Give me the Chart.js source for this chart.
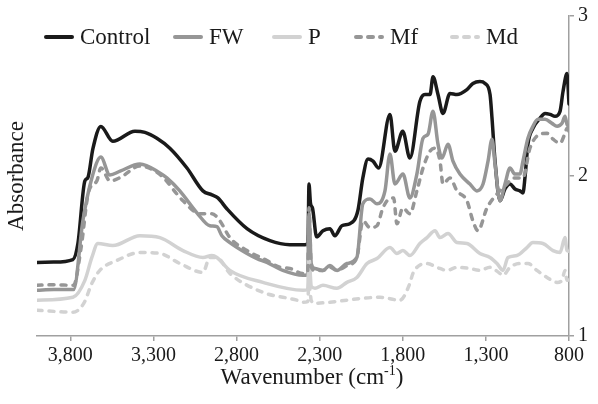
<!DOCTYPE html>
<html><head><meta charset="utf-8">
<script src="https://cdn.jsdelivr.net/npm/chart.js@4/dist/chart.umd.min.js"></script>
<style>html,body{margin:0;padding:0;background:#fff}#wrap{width:598px;height:404px;position:relative}
.fp{font-family:"Liberation Serif";position:absolute;left:-999px;top:0;font-size:20px}</style>
</head><body><div id="wrap"><canvas id="c" width="598" height="404"></canvas></div><span class="fp">Control 3,800</span>
<script>
const seriesNames = ['Control', 'FW', 'P', 'Mf', 'Md'];
const xTickValues = [3800, 3300, 2800, 2300, 1800, 1300, 800];
const yTickValues = [1, 2, 3];
const xTitle = 'Wavenumber (cm';
const xTitleSup = '-1';
const yTitle = 'Absorbance';

const wnControl = [4000,3900,3784,3754,3712,3694,3664,3616,3544,3411,3351,3279,3201,3098,3002,2948,2912,2858,2737,2599,2479,2388,2370,2364,2355,2343,2318,2280,2238,2208,2166,2118,2070,2040,2009,1979,1945,1877,1847,1800,1757,1697,1666,1636,1618,1588,1558,1516,1474,1414,1378,1336,1305,1275,1263,1245,1215,1185,1155,1125,1095,1077,1065,1047,1017,975,944,914,884,854,836,812,800];
const absControl = [1.46,1.462,1.478,1.578,1.97,1.99,2.17,2.31,2.217,2.28,2.273,2.236,2.174,2.05,1.907,1.882,1.863,1.795,1.671,1.596,1.571,1.571,1.58,1.95,1.83,1.80,1.62,1.658,1.671,1.627,1.689,1.702,1.783,1.988,2.106,2.093,2.05,2.385,2.155,2.28,2.112,2.466,2.509,2.509,2.621,2.509,2.391,2.516,2.509,2.54,2.578,2.59,2.578,2.509,2.36,2.093,1.845,1.919,1.95,1.919,1.907,1.894,1.988,2.199,2.298,2.36,2.391,2.385,2.373,2.404,2.528,2.64,2.45];

const wnFW = [4000,3900,3780,3724,3670,3616,3562,3500,3381,3261,3219,3141,3038,2960,2918,2888,2840,2737,2677,2617,2521,2400,2372,2364,2350,2328,2280,2238,2196,2136,2076,2040,1997,1955,1907,1877,1847,1799,1757,1715,1678,1648,1618,1588,1564,1528,1498,1456,1396,1354,1317,1287,1263,1245,1215,1185,1155,1125,1095,1077,1047,1017,987,944,902,872,842,824,812,800];
const absFW = [1.286,1.29,1.29,1.72,1.988,2.118,2.006,2.03,2.075,2.019,1.988,1.907,1.77,1.689,1.683,1.627,1.584,1.516,1.484,1.46,1.41,1.379,1.385,1.764,1.45,1.422,1.41,1.441,1.41,1.453,1.491,1.826,1.857,1.826,1.907,2.137,1.95,2.012,1.863,2.012,2.236,2.261,2.404,2.199,2.112,2.199,2.093,2.012,1.95,1.907,1.95,2.093,2.23,2.075,1.845,1.95,2.05,2.012,2.012,2.093,2.236,2.311,2.354,2.354,2.329,2.311,2.329,2.373,2.323,2.31];

const wnP = [4000,3784,3712,3670,3634,3544,3381,3261,3122,3002,2948,2918,2840,2641,2400,2372,2364,2350,2328,2280,2196,2136,2076,2015,1955,1877,1835,1799,1757,1697,1654,1606,1576,1528,1474,1414,1336,1275,1233,1197,1167,1113,1053,1017,957,896,854,824,812,800];
const absP = [1.224,1.242,1.348,1.491,1.578,1.565,1.627,1.615,1.534,1.491,1.503,1.491,1.41,1.335,1.286,1.29,1.491,1.31,1.298,1.317,1.298,1.335,1.366,1.453,1.484,1.553,1.516,1.534,1.503,1.578,1.615,1.658,1.615,1.64,1.584,1.578,1.516,1.491,1.453,1.41,1.491,1.503,1.553,1.584,1.578,1.534,1.522,1.615,1.534,1.53];

const wnMf = [4000,3900,3780,3735,3690,3640,3616,3560,3500,3381,3261,3122,3020,2948,2900,2840,2737,2617,2539,2479,2400,2372,2364,2350,2328,2280,2238,2196,2136,2076,2040,1997,1955,1919,1870,1855,1835,1799,1757,1715,1678,1636,1606,1576,1558,1516,1474,1414,1378,1348,1293,1233,1173,1137,1077,1035,975,932,896,854,824,812,800];
const absMf = [1.317,1.32,1.317,1.55,1.90,1.969,2.05,1.969,1.99,2.062,2.01,1.845,1.764,1.764,1.72,1.615,1.534,1.472,1.429,1.422,1.391,1.40,1.801,1.43,1.41,1.41,1.43,1.41,1.44,1.49,1.72,1.677,1.689,1.801,1.863,1.863,1.702,1.801,1.764,1.907,2.05,2.155,2.174,2.093,1.95,1.988,1.907,1.845,1.72,1.658,1.801,1.888,1.95,1.988,1.988,2.174,2.261,2.267,2.23,2.205,2.267,2.298,2.28];

const wnMd = [4000,3784,3718,3670,3622,3520,3381,3261,3140,3002,2960,2918,2840,2641,2437,2400,2372,2364,2350,2328,2238,2136,2040,1937,1817,1757,1739,1654,1594,1534,1474,1396,1336,1275,1215,1197,1155,1095,1047,993,932,872,842,824,812,800];
const absMd = [1.161,1.149,1.205,1.329,1.41,1.472,1.522,1.516,1.453,1.398,1.491,1.491,1.391,1.273,1.224,1.211,1.215,1.33,1.22,1.205,1.211,1.224,1.236,1.242,1.224,1.329,1.391,1.453,1.429,1.41,1.429,1.422,1.41,1.429,1.391,1.379,1.429,1.453,1.453,1.41,1.366,1.335,1.348,1.41,1.348,1.35];

const seriesWn = [wnControl, wnFW, wnP, wnMf, wnMd];
const seriesAbs = [absControl, absFW, absP, absMf, absMd];
const seriesColors = ['#1a1a1a', '#969696', '#d2d2d2', '#969696', '#d2d2d2'];
const seriesDash = [[], [], [], [5, 7], [5, 7]];
const legendX = [44, 173, 272, 354, 450];

const FONT = "'Liberation Serif'";

const datasets = seriesNames.map((name, i) => ({
  label: name,
  data: seriesWn[i].map((w, k) => ({ x: w, y: seriesAbs[i][k] })),
  borderColor: seriesColors[i],
  backgroundColor: seriesColors[i],
  borderWidth: 3.5,
  borderDash: seriesDash[i],
  borderCapStyle: 'round',
  borderJoinStyle: 'round',
  pointRadius: 0,
  cubicInterpolationMode: 'monotone',
  fill: false,
  order: seriesNames.length - i
}));

const decor = {
  id: 'decor',
  afterDraw(chart) {
    const ctx = chart.ctx;
    const area = chart.chartArea;
    ctx.save();
    ctx.fillStyle = '#1a1a1a';
    ctx.font = '23px ' + FONT;
    ctx.textAlign = 'center';
    ctx.textBaseline = 'middle';
    ctx.translate(17, (area.top + area.bottom) / 2);
    ctx.rotate(-Math.PI / 2);
    ctx.fillText(yTitle, 0, 0);
    ctx.restore();
    ctx.save();
    ctx.fillStyle = '#1a1a1a';
    ctx.textBaseline = 'alphabetic';
    ctx.textAlign = 'left';
    const mainFont = '23px ' + FONT, supFont = '14px ' + FONT;
    ctx.font = mainFont; const w1 = ctx.measureText(xTitle).width; const w3 = ctx.measureText(')').width;
    ctx.font = supFont; const w2 = ctx.measureText(xTitleSup).width;
    let x = 312 - (w1 + w2 + w3) / 2; const base = 384;
    ctx.font = mainFont; ctx.fillText(xTitle, x, base); x += w1;
    ctx.font = supFont; ctx.fillText(xTitleSup, x, base - 9); x += w2;
    ctx.font = mainFont; ctx.fillText(')', x, base);
    ctx.restore();
    ctx.save();
    chart.data.datasets.forEach((ds, i) => {
      const lx = legendX[i], ly = 37;
      ctx.strokeStyle = ds.borderColor;
      ctx.lineWidth = 4;
      ctx.lineCap = 'round';
      ctx.setLineDash(ds.borderDash || []);
      ctx.beginPath(); ctx.moveTo(lx + 2, ly); ctx.lineTo(lx + 28, ly); ctx.stroke();
      ctx.setLineDash([]);
      ctx.fillStyle = '#1a1a1a';
      ctx.font = '23px ' + FONT;
      ctx.textBaseline = 'middle';
      ctx.textAlign = 'left';
      ctx.fillText(ds.label, lx + 36, ly + 1);
    });
    ctx.restore();
  }
};

function build() {
  new Chart(document.getElementById('c'), {
    type: 'line',
    data: { datasets },
    options: {
      responsive: false,
      animation: false,
      devicePixelRatio: 1,
      layout: { padding: { left: 37, top: 14, right: 0, bottom: 0 } },
      plugins: { legend: { display: false }, tooltip: { enabled: false }, title: { display: false } },
      scales: {
        x: {
          type: 'linear', position: 'bottom', min: 800, max: 4000, reverse: true,
          afterBuildTicks: (s) => { s.ticks = xTickValues.map(v => ({ value: v })); },
          afterFit: (s) => { s.height = 68; },
          ticks: { font: { family: FONT, size: 20 }, color: '#1a1a1a', padding: 3, maxRotation: 0, autoSkip: false,
                   callback: (v) => v.toLocaleString('en-US') },
          grid: { drawOnChartArea: false, drawTicks: true, tickLength: 5, color: '#a0a0a0', lineWidth: 1.5 },
          border: { display: true, color: '#a0a0a0', width: 1.5 }
        },
        y: {
          type: 'linear', position: 'right', min: 1, max: 3,
          afterBuildTicks: (s) => { s.ticks = yTickValues.map(v => ({ value: v })); },
          afterFit: (s) => { s.width = 29; },
          ticks: { font: { family: FONT, size: 20 }, color: '#1a1a1a', padding: 4 },
          grid: { drawOnChartArea: false, drawTicks: true, tickLength: 5, color: '#a0a0a0', lineWidth: 1.5 },
          border: { display: true, color: '#a0a0a0', width: 1.5 }
        }
      }
    },
    plugins: [decor]
  });
}
Promise.all([document.fonts.load("20px 'Liberation Serif'"), document.fonts.load("23px 'Liberation Serif'")])
  .then(build, build);
</script></body></html>
